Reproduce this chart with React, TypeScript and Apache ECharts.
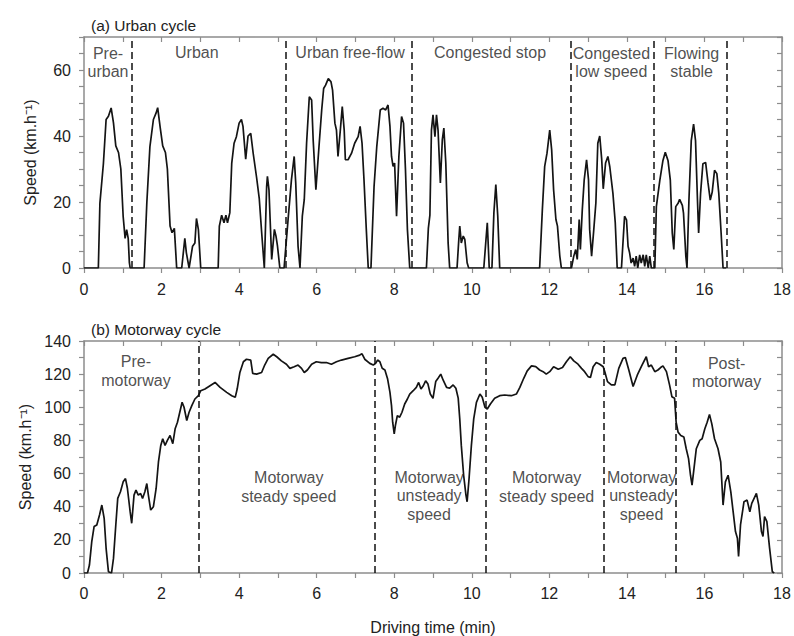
import React, { useEffect, useRef } from "react";
import * as echarts from "echarts";

// ---- Urban cycle (time in min, speed in km/h) ----
const urbanT = [
  0, 0.37, 0.41, 0.5, 0.57, 0.63, 0.7, 0.76, 0.82, 0.89, 0.95, 1.01, 1.06, 1.1, 1.14, 1.17, 1.19,
  1.55, 1.62, 1.7, 1.79, 1.86, 1.9, 1.96, 2.03, 2.1, 2.15, 2.22, 2.27, 2.33, 2.39,
  2.52, 2.6, 2.64, 2.71, 2.8, 2.86, 2.9, 2.95, 3.01,
  3.46, 3.49, 3.55, 3.61, 3.66, 3.7, 3.76, 3.81, 3.87, 3.93, 4.0, 4.06, 4.1, 4.17, 4.23, 4.3, 4.36,
  4.45, 4.52, 4.58, 4.65, 4.71, 4.73, 4.77, 4.84, 4.91, 4.95, 4.99, 5.05,
  5.16, 5.27, 5.35, 5.42, 5.46, 5.52, 5.57, 5.63, 5.68, 5.74, 5.81, 5.87, 5.91, 5.98, 6.06, 6.13,
  6.18, 6.23, 6.3, 6.37, 6.41, 6.47, 6.51, 6.55, 6.61, 6.66, 6.71, 6.74, 6.81, 6.9, 6.98, 7.07,
  7.12, 7.17, 7.22, 7.28, 7.33, 7.4, 7.48, 7.55, 7.64, 7.71, 7.78, 7.84, 7.89, 7.93, 7.97, 8.01,
  8.06, 8.12, 8.19, 8.24, 8.29, 8.34, 8.4,
  8.83, 8.88, 8.92, 8.96, 9.0, 9.05, 9.09, 9.13, 9.19, 9.24, 9.28, 9.33, 9.39, 9.43,
  9.62, 9.66, 9.69, 9.73, 9.78, 9.82, 9.88, 9.92,
  10.31, 10.36, 10.4, 10.45, 10.52, 10.57, 10.62, 10.67, 10.72,
  11.75, 11.82, 11.88, 11.94, 12.01, 12.06, 12.11, 12.17, 12.21, 12.27, 12.31,
  12.57, 12.63, 12.68, 12.72, 12.77, 12.8, 12.85, 12.9, 12.96, 13.01, 13.04, 13.09, 13.14, 13.2,
  13.25, 13.3, 13.35, 13.39, 13.45, 13.51, 13.56, 13.64, 13.7, 13.75,
  13.86, 13.94, 13.99, 14.03, 14.07, 14.11, 14.16, 14.2, 14.24, 14.28, 14.33, 14.37, 14.42, 14.46,
  14.5, 14.55, 14.59, 14.63, 14.69,
  14.72, 14.76, 14.85, 14.93, 14.99, 15.06, 15.12, 15.17, 15.21, 15.26, 15.32, 15.36, 15.43, 15.46,
  15.52, 15.55, 15.6, 15.66, 15.72, 15.77, 15.82, 15.85, 15.9, 15.96, 16.03, 16.09, 16.15, 16.2,
  16.26, 16.32, 16.37, 16.43, 16.48, 16.56,
];
const urbanV = [
  0, 0, 19.6, 31.6, 45, 46, 48.5, 44, 37, 35, 30, 15.6, 9, 11.6, 9, 1.6, 0,
  0, 19.7, 36.8, 45, 47, 48.6, 43, 37, 35, 30, 12.7, 10.7, 12, 0,
  0, 9, 4.6, 0, 6.6, 7.6, 15, 11.6, 0,
  0, 12.7, 16, 13.7, 16, 13.7, 16.7, 31.8, 37.8, 39.8, 43.9, 45, 42.9, 33, 40, 40.8, 35,
  27.5, 21, 11, 0, 24.7, 27.8, 23.7, 2.6, 11.7, 9.7, 6.6, 0,
  0, 15.7, 26.8, 33.8, 25.8, 6.6, 0, 15.7, 20.7, 37.8, 51.9, 50.9, 38.8, 23.7, 36.8, 47.9,
  54.4, 55.4, 57.4, 56.4, 53.9, 43.9, 41.8, 33.8, 41.8, 48.9, 41.8, 32.8, 32.8, 34.8, 37.8, 39.8,
  42.9, 37.8, 26.8, 11.7, 0, 0, 24.7, 36.8, 47.9, 48.4, 47.9, 49.4, 42.9, 33.8, 30.8, 31.8,
  15.7, 33.8, 45.9, 43.9, 29.8, 11.7, 0,
  0, 12, 16, 41.8, 46.4, 39.8, 46.4, 41.8, 25.8, 38.8, 42.4, 31.8, 7.6, 0,
  0, 7.6, 12.7, 7.6, 9.7, 8.7, 1.6, 0,
  0, 7.6, 13.7, 0, 0, 16.7, 25.3, 15.7, 0,
  0, 17.7, 30.8, 34.8, 41.8, 35.8, 23.7, 14.7, 12.7, 3.6, 0,
  0, 3.6, 5.6, 2.6, 14.7, 5.6, 17.7, 26.8, 32.8, 26.8, 11.7, 3.6, 10.7, 19.7,
  37.8, 40, 33, 24, 31.8, 33.8, 30.6, 22.6, 13.7, 0,
  0, 15.7, 14.6, 6.6, 4.6, 1.5, 3, 0.5, 3.6, 0, 4, 1.5, 4, 0.5,
  4, 0, 3.6, 0, 0,
  0, 18.6, 26.6, 32.6, 35.1, 32.6, 26.6, 10.6, 5.6, 18.6, 19.6, 20.8, 19, 16.6,
  3.6, 0, 20.6, 38.6, 43.6, 38.6, 20.6, 10.6, 22.6, 31.6, 32, 26, 20.6, 23,
  29.6, 28.6, 22.6, 10.6, 0, 0,
];

// ---- Motorway cycle ----
const motorT = [
  0, 0.09, 0.14, 0.2, 0.26, 0.33, 0.4, 0.46, 0.52, 0.57, 0.63, 0.71, 0.76, 0.82, 0.87, 0.94, 1.01,
  1.07, 1.12, 1.19, 1.23, 1.29, 1.34, 1.4, 1.46, 1.51, 1.57, 1.62, 1.66, 1.72, 1.79, 1.86, 1.92,
  1.98, 2.03, 2.09, 2.15, 2.22, 2.29, 2.35, 2.41, 2.47, 2.53, 2.58, 2.65, 2.71, 2.78, 2.86, 2.95,
  3.01, 3.12, 3.25, 3.38, 3.51, 3.68, 3.81, 3.9, 3.95, 4.02, 4.11, 4.19, 4.3, 4.35, 4.45, 4.58,
  4.66, 4.75, 4.88, 4.97, 5.09, 5.22, 5.31, 5.42, 5.52, 5.61, 5.68, 5.76, 5.87, 5.99, 6.12, 6.25,
  6.38, 6.51, 6.64, 6.81, 6.98, 7.11, 7.17, 7.24, 7.37, 7.46, 7.52, 7.57, 7.63, 7.69, 7.76, 7.83,
  7.89, 7.93, 7.96, 8.0, 8.03, 8.08, 8.14, 8.2, 8.27, 8.34, 8.4, 8.49, 8.57, 8.63, 8.69, 8.75,
  8.81, 8.87, 8.93, 9.0, 9.07, 9.13, 9.2, 9.26, 9.35, 9.43, 9.52, 9.59, 9.65, 9.69, 9.73, 9.79,
  9.85, 9.88, 9.93, 9.99, 10.05, 10.12, 10.21, 10.27, 10.34, 10.4, 10.48, 10.59, 10.72, 10.85,
  11.02, 11.15, 11.24, 11.34, 11.43, 11.54, 11.65, 11.75, 11.84, 11.92, 12.01, 12.11, 12.23,
  12.34, 12.44, 12.54, 12.63, 12.74, 12.83, 12.91, 13.0, 13.06, 13.13, 13.21, 13.3, 13.39, 13.43,
  13.5, 13.6, 13.69, 13.79, 13.9, 13.96, 14.05, 14.16, 14.27, 14.39, 14.5, 14.56, 14.63, 14.72,
  14.8, 14.87, 14.93, 15.02, 15.1, 15.16, 15.23, 15.27, 15.32, 15.39, 15.47, 15.53, 15.59, 15.64,
  15.68, 15.73, 15.79, 15.88, 15.94, 16.01, 16.07, 16.13, 16.19, 16.26, 16.35, 16.42, 16.48,
  16.54, 16.61, 16.68, 16.74, 16.8, 16.85, 16.88, 16.93, 17.02, 17.1, 17.17, 17.22, 17.34, 17.4,
  17.47, 17.51, 17.55, 17.61, 17.68, 17.75, 17.8,
];
const motorV = [
  0, 0, 4.8, 18.9, 28, 29, 35, 41, 33, 14.9, 0.8, 0, 8.8, 29, 45, 49, 55,
  57, 51, 37, 30, 47, 50, 47, 48, 45, 49, 54, 47, 38, 40, 51, 67,
  77, 81, 77, 80, 83, 78, 87, 91, 97, 103, 100, 92, 97, 101, 105, 107,
  110, 111, 113, 115, 112, 109, 107, 106, 111, 121, 127.5, 129, 128.5, 120.5, 120, 121,
  125.5, 129.5, 132, 130.5, 128, 126, 123.5, 124.5, 125.5, 123.5, 121, 122.5, 126, 127.5, 127, 127,
  126, 127.5, 128.5, 129.5, 130.5, 131.5, 132.3, 129, 126.5, 125.5, 126.5, 128.5, 127.5, 123.5, 122.5, 117,
  109, 101, 91, 84, 89, 95, 94, 97, 102, 105, 108, 110, 112, 115, 111, 113,
  116, 114, 108, 105.4, 115.5, 117.5, 120, 116.5, 112, 111.5, 113.5, 111.5, 105.5, 93, 77, 59,
  47, 43, 57, 77, 93, 103, 108, 106, 100, 99, 102, 105.4, 107, 107.4,
  107, 108, 112, 117.5, 122, 125, 124.5, 122.5, 121.5, 120, 121.5, 124.5, 123,
  124, 127.5, 130.5, 128, 126, 123.5, 121.5, 118.5, 118, 124.5, 127, 126, 124.5, 121.5,
  115.5, 113.5, 113.5, 123.5, 129.5, 130, 122.5, 112.5, 119.5, 125.5, 130.5, 124.5, 125.5, 121.5,
  122.5, 124, 125, 121.5, 113.5, 106.4, 105.4, 91, 85, 83, 82, 75, 69, 59,
  53, 63, 75, 80, 81, 87, 91, 95.7, 90, 81, 75, 67, 41,
  55, 59, 49, 37, 25, 21, 10, 29, 43, 44, 37, 42, 48, 41,
  25, 22, 34, 31, 15, 0.8, 0,
];

// ---- Phase boundaries (min) ----
const urbanBounds = [1.24, 5.19, 8.46, 12.55, 14.68, 16.58];
const motorBounds = [2.95, 7.49, 10.37, 13.41, 15.26];

// ---- Phase labels: [time, speed, text] ----
const urbanPhases: [number, number, string][] = [
  [0.62, 62.3, "Pre-\nurban"],
  [2.91, 65.2, "Urban"],
  [6.86, 65.2, "Urban free-flow"],
  [10.47, 65.2, "Congested stop"],
  [13.6, 62.3, "Congested\nlow speed"],
  [15.67, 62.3, "Flowing\nstable"],
];
const motorPhases: [number, number, string][] = [
  [1.34, 122, "Pre-\nmotorway"],
  [5.28, 52, "Motorway\nsteady speed"],
  [8.9, 46.5, "Motorway\nunsteady\nspeed"],
  [11.93, 52, "Motorway\nsteady speed"],
  [14.38, 46.5, "Motorway\nunsteady\nspeed"],
  [16.57, 121, "Post-\nmotorway"],
];

const FONT = "Liberation Sans, Arial, sans-serif";
const AXIS_COLOR = "#8c8c8c";
const TEXT_COLOR = "#222";
const FS = 16;

export default function App() {
  const ref = useRef<HTMLDivElement>(null);

  useEffect(() => {
    if (!ref.current) return;
    const chart = echarts.init(ref.current, undefined, { renderer: "svg" });

    const zip = (t: number[], v: number[]) => t.map((x, i) => [x, v[i]]);

    const grids = [
      { left: 84, right: 12, top: 37, height: 231 },
      { left: 84, right: 12, top: 341, height: 232 },
    ];

    const baseX = (
      gridIndex: number,
      position: "bottom" | "top",
      showLabel: boolean,
      margin: number,
      name?: string
    ) => ({
      type: "value",
      gridIndex,
      position,
      min: 0,
      max: 18,
      interval: 1,
      name: name || "",
      nameLocation: "middle",
      nameGap: 46,
      nameTextStyle: { fontFamily: FONT, fontSize: FS, color: TEXT_COLOR },
      axisLine: { show: true, onZero: false, lineStyle: { color: AXIS_COLOR, width: 1.5 } },
      axisTick: { show: true, inside: !showLabel, length: 5, lineStyle: { color: AXIS_COLOR, width: 1.2 } },
      axisLabel: {
        show: showLabel,
        margin,
        fontFamily: FONT,
        fontSize: FS,
        color: TEXT_COLOR,
        formatter: (v: number) => (v % 2 === 0 ? String(v) : ""),
      },
      splitLine: { show: false },
    });

    const baseY = (
      gridIndex: number,
      position: "left" | "right",
      showLabel: boolean,
      max: number,
      interval: number
    ) => ({
      type: "value",
      gridIndex,
      position,
      min: 0,
      max,
      interval,
      name: showLabel ? "Speed (km.h⁻¹)" : "",
      nameLocation: "middle",
      nameRotate: 90,
      nameGap: 46,
      nameTextStyle: { fontFamily: FONT, fontSize: FS, color: TEXT_COLOR },
      axisLine: { show: true, onZero: false, lineStyle: { color: AXIS_COLOR, width: 1.5 } },
      axisTick: { show: true, inside: !showLabel, length: 5, lineStyle: { color: AXIS_COLOR, width: 1.2 } },
      axisLabel: {
        show: showLabel,
        margin: 13,
        fontFamily: FONT,
        fontSize: FS,
        color: TEXT_COLOR,
        formatter: (v: number) => (v % 20 === 0 ? String(v) : ""),
      },
      splitLine: { show: false },
    });

    const dashed = (bounds: number[]) => ({
      silent: true,
      symbol: ["none", "none"],
      label: { show: false },
      lineStyle: { color: "#111", width: 1.5, type: [7, 4] },
      data: bounds.map((b) => ({ xAxis: b })),
    });

    const phaseSeries = (idx: number, phases: [number, number, string][]) => ({
      type: "scatter",
      xAxisIndex: idx * 2,
      yAxisIndex: idx * 2,
      symbolSize: 0,
      silent: true,
      data: phases.map((p) => [p[0], p[1], p[2]]),
      label: {
        show: true,
        position: "inside",
        formatter: (p: any) => p.data[2],
        fontFamily: FONT,
        fontSize: FS,
        lineHeight: 18.5,
        color: TEXT_COLOR,
        align: "center",
        verticalAlign: "middle",
      },
      z: 5,
    });

    chart.setOption({
      animation: false,
      backgroundColor: "#fff",
      title: [
        {
          text: "(a) Urban cycle",
          left: 86,
          top: 12,
          textStyle: { fontFamily: FONT, fontSize: 15.5, fontWeight: "normal", color: TEXT_COLOR },
        },
        {
          text: "(b) Motorway cycle",
          left: 86,
          top: 316,
          textStyle: { fontFamily: FONT, fontSize: 15.5, fontWeight: "normal", color: TEXT_COLOR },
        },
      ],
      grid: grids,
      xAxis: [
        baseX(0, "bottom", true, 13),
        baseX(0, "top", false, 8),
        baseX(1, "bottom", true, 12, "Driving time (min)"),
        baseX(1, "top", false, 8),
      ],
      yAxis: [
        baseY(0, "left", true, 70, 5),
        baseY(0, "right", false, 70, 5),
        baseY(1, "left", true, 140, 10),
        baseY(1, "right", false, 140, 10),
      ],
      series: [
        {
          type: "line",
          xAxisIndex: 0,
          yAxisIndex: 0,
          data: zip(urbanT, urbanV),
          showSymbol: false,
          symbol: "none",
          lineStyle: { color: "#141414", width: 1.7 },
          markLine: dashed(urbanBounds),
          z: 3,
        },
        {
          type: "line",
          xAxisIndex: 2,
          yAxisIndex: 2,
          data: zip(motorT, motorV),
          showSymbol: false,
          symbol: "none",
          lineStyle: { color: "#141414", width: 1.7 },
          markLine: dashed(motorBounds),
          z: 3,
        },
        phaseSeries(0, urbanPhases),
        phaseSeries(1, motorPhases),
      ],
    });

    return () => chart.dispose();
  }, []);

  return (
    <div
      ref={ref}
      style={{ position: "fixed", left: 0, top: 0, width: 794, height: 636, background: "#fff" }}
    />
  );
}
